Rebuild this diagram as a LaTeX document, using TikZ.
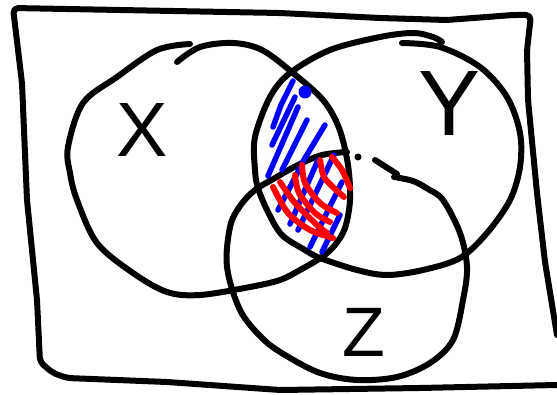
\documentclass[tikz,border=0pt]{standalone}
\usepackage{fontspec}
\setmainfont{Liberation Sans}
\definecolor{inkclr}{RGB}{0,0,0}
\definecolor{hatchblue}{RGB}{0,0,255}
\definecolor{hatchred}{RGB}{255,0,0}
\tikzset{
  inkline/.style={draw=inkclr, line width=6pt, line cap=round, line join=round},
  bluehatch/.style={draw=hatchblue, line width=5.5pt, line cap=round, line join=round},
  redhatch/.style={draw=hatchred, line width=6pt, line cap=round, line join=round},
  setname/.style={inner sep=0pt, text=inkclr, anchor=center}
}

\begin{document}
\begin{tikzpicture}[x=1pt, y=-1pt]
  \useasboundingbox (0,0) rectangle (557,395);
  \draw[inkline, rounded corners=5pt] (557,335) -- (545,262) -- (537,193) -- (528,100) -- (527,50) -- (531,15)
    -- (513,15) -- (447,20) -- (380,18) -- (280,13) -- (13,8) -- (22,83) -- (27,200) -- (37,300) -- (40,362)
    -- (53,373) -- (67,378) -- (167,382) -- (280,390) -- (420,388) -- (557,385);
  \draw[inkline] plot[smooth, tension=0.55] coordinates {(177,62) (200,47) (233,43) (262,50) (293,73) (323,100)
    (339,128) (348,165) (350,200) (345,228) (335,245) (322,257) (300,270) (280,280) (250,287) (200,295)
    (167,292) (133,273) (97,243) (77,200) (70,173) (68,147) (83,103) (117,77) (157,50) (190,44)};
  \draw[inkline] plot[smooth, tension=0.55] coordinates {(402,43) (440,47) (480,67) (507,97) (520,133)
    (520,167) (510,200) (487,233) (460,258) (423,270) (387,275) (357,270) (320,258) (305,250) (282,235)
    (268,212) (258,188) (255,170) (255,137) (270,97) (290,73) (330,50) (380,37) (413,33) (433,37) (442,42)};
  \draw[inkline] plot[smooth, tension=0.55] coordinates {(347,152) (322,155) (298,165) (275,178) (255,190)
    (240,206) (230,227) (227,267) (240,310) (262,338) (285,355) (320,373) (357,380) (397,377) (430,363)
    (453,340) (463,300) (467,267) (460,233) (443,200) (428,189) (413,181) (394,177)};
  \draw[inkline] (375,160) -- (386,167) -- (397,174);
  \fill[inkclr] (358,157) circle[radius=3.5pt];
  \draw[bluehatch] (293,81) -- (281,105) -- (273,127);
  \draw[bluehatch] (295,97) -- (272,145);
  \draw[bluehatch] (298,107) -- (268,176);
  \fill[hatchblue] (305,92) circle[radius=6.5pt];
  \draw[bluehatch] (307,120) -- (282,170);
  \draw[bluehatch] (325,125) -- (302,163);
  \draw[bluehatch] (300,168) -- (278,210);
  \draw[bluehatch] (318,160) -- (290,224);
  \draw[bluehatch] (334,155) -- (298,230);
  \draw[bluehatch] (342,182) -- (310,247);
  \draw[bluehatch] (340,215) -- (322,252);
  \draw[redhatch] plot[smooth] coordinates {(273,187) (288,213) (310,230) (333,238)};
  \draw[redhatch] plot[smooth] coordinates {(280,182) (295,203) (317,225) (327,233)};
  \draw[redhatch] plot[smooth] coordinates {(295,175) (299,193) (315,213) (330,222)};
  \draw[redhatch] plot[smooth] coordinates {(302,165) (305,183) (320,203) (337,213)};
  \draw[redhatch] plot[smooth] coordinates {(320,160) (324,177) (334,188) (344,197)};
  \draw[redhatch] plot[smooth] coordinates {(332,157) (342,170) (350,188)};
  \node[setname, font=\fontsize{77}{77}\selectfont] (labX) at (142,130) {X};
  \node[setname, font=\fontsize{93}{93}\selectfont] (labY) at (450,104) {Y};
  \node[setname, font=\fontsize{70}{70}\selectfont] (labZ) at (364,332) {Z};
\end{tikzpicture}
\end{document}
